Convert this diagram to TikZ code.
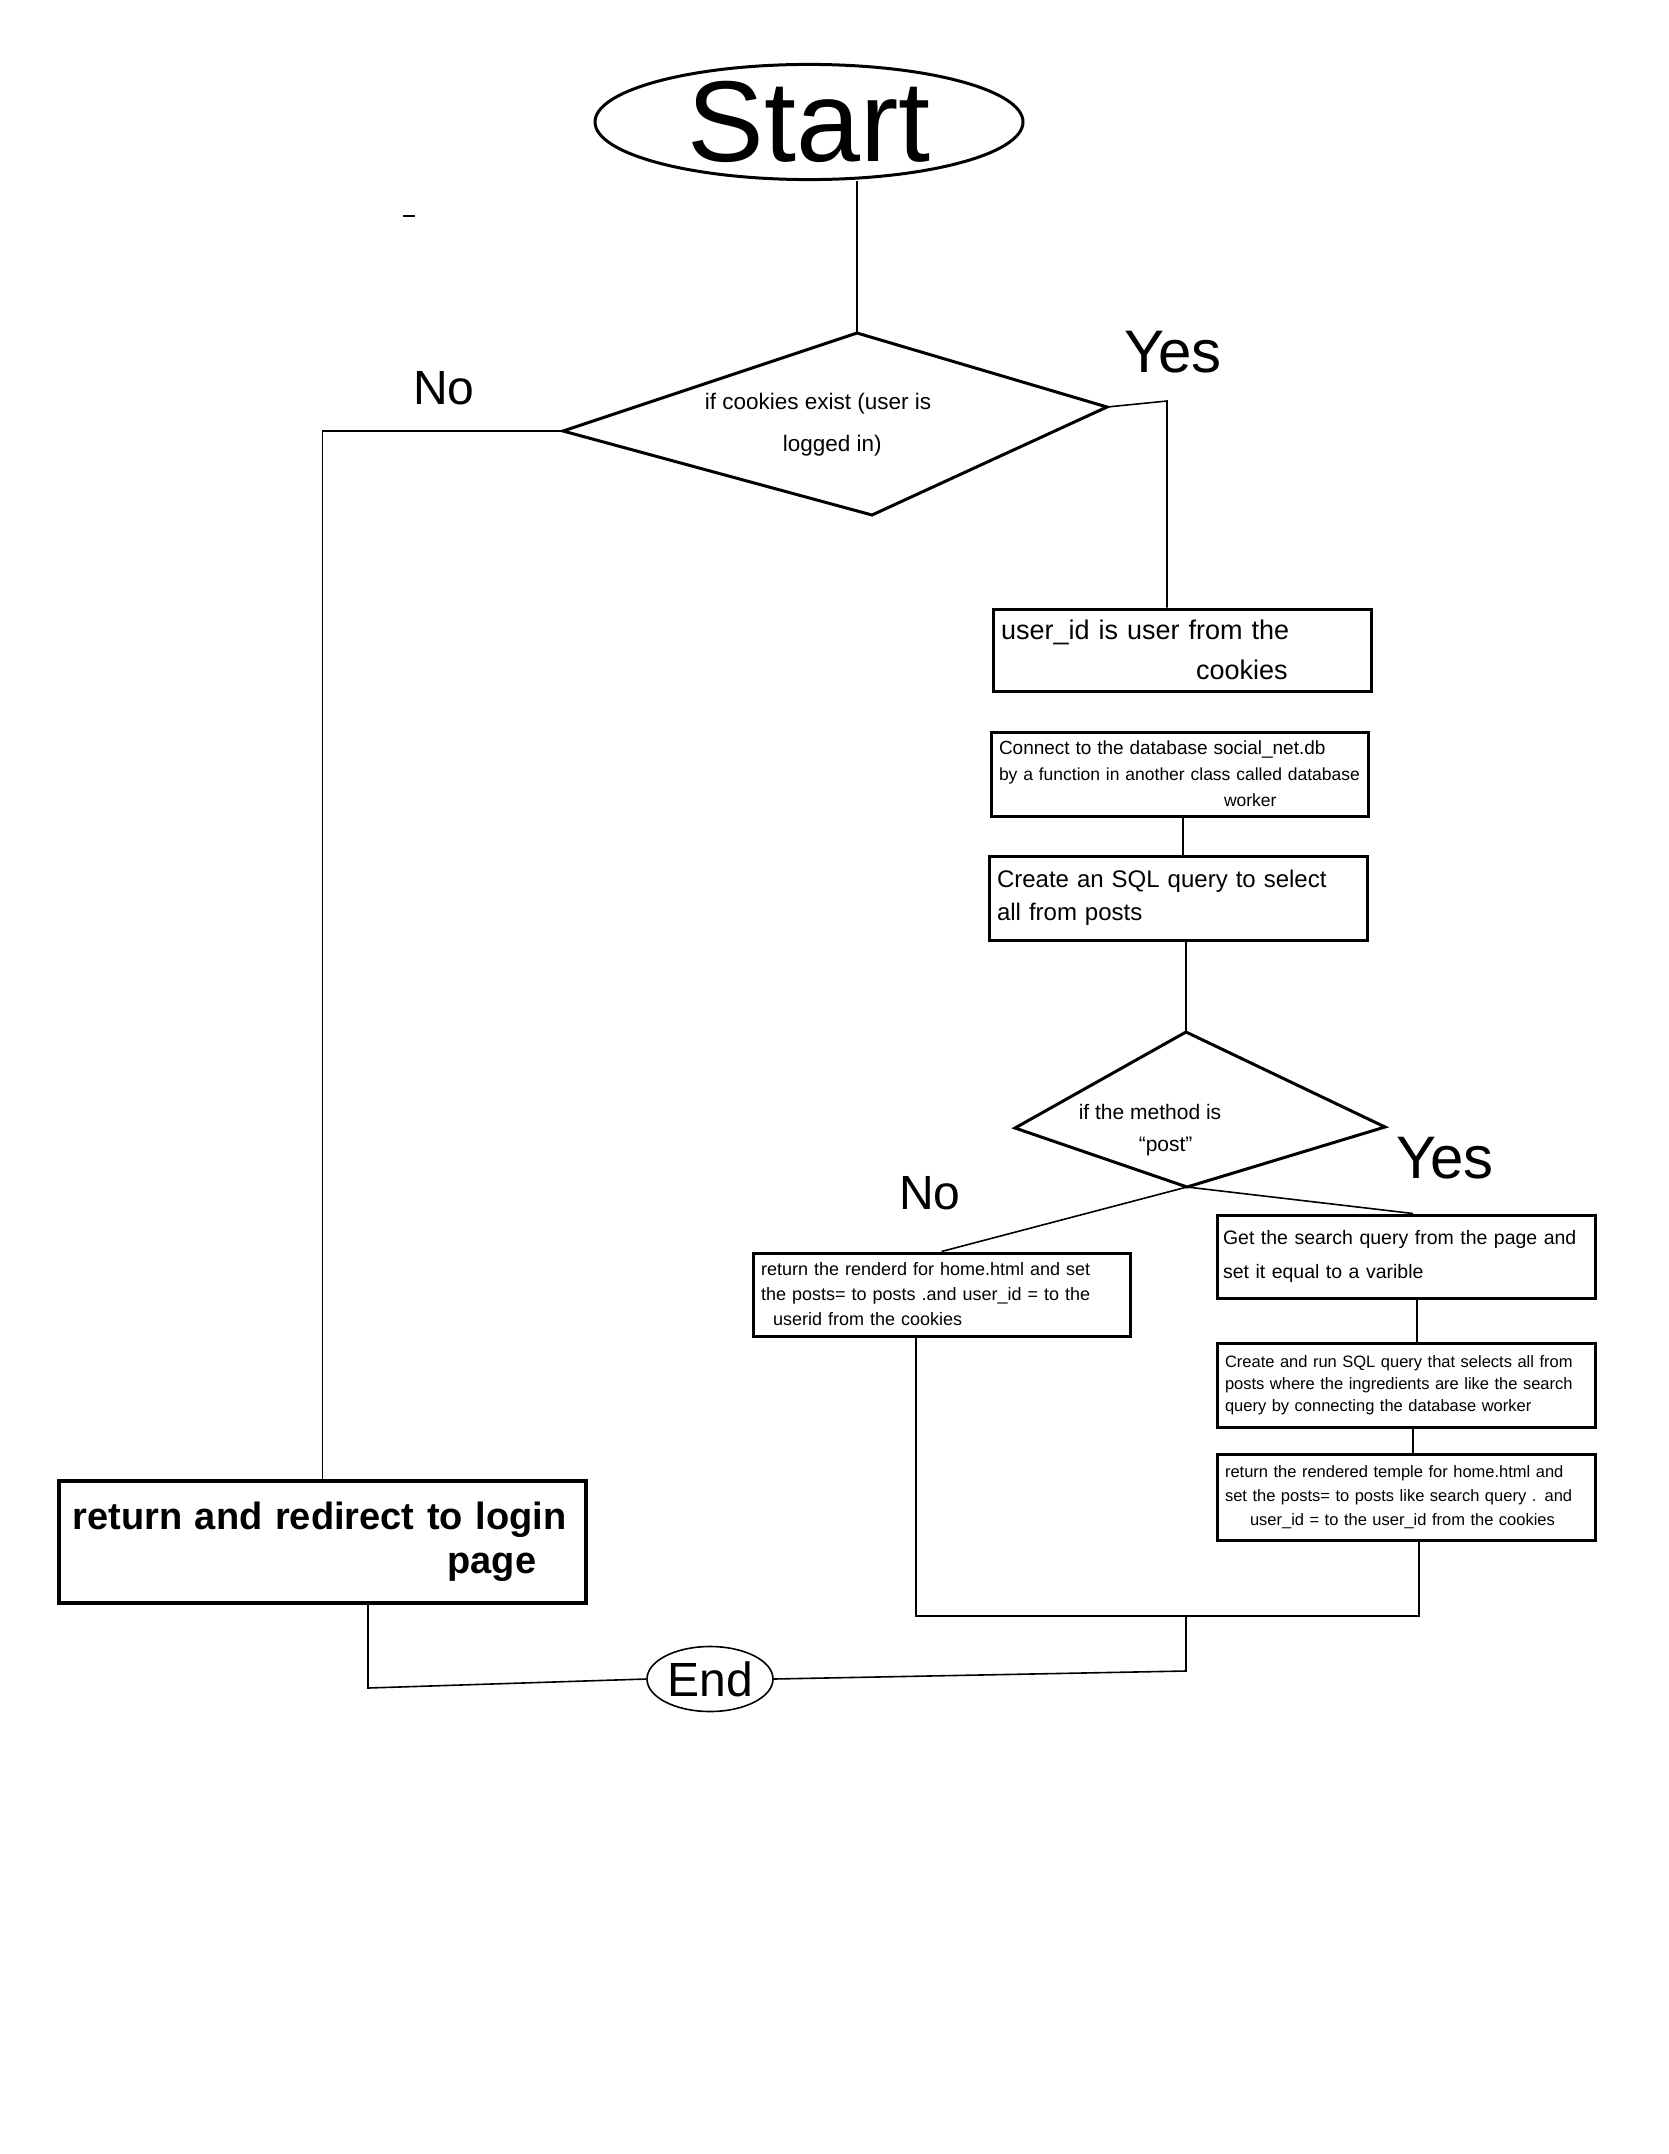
\documentclass[tikz,border=0pt]{standalone}
\usepackage{fontspec}
\setmainfont{Liberation Sans}
\usetikzlibrary{shapes.geometric}
\tikzset{
  boxn/.style={draw, line width=3pt, rectangle, inner sep=8pt, align=left},
  shape2/.style={draw, line width=3pt, line join=miter},
  conn/.style={draw, line width=1.6pt},
  lbl/.style={inner sep=0pt, align=center},
}
\begin{document}
\begin{tikzpicture}[x=1pt, y=-1pt]
\useasboundingbox (0,0) rectangle (1668,2154);
\fill[white] (0,0) rectangle (1668,2154);

% Start
\node[ellipse, draw, line width=3pt, minimum width=428pt, minimum height=114pt, inner sep=0pt,
      font=\fontsize{115}{125}\selectfont] (start) at (809,122) {Start};

% stray mark
\coordinate (m1) at (403,216);
\coordinate (m2) at (415,216);
\draw[line width=1.2pt] (m1) -- (m2);

% Diamond 1
\coordinate (d1t) at (857,333);
\coordinate (d1r) at (1107,407);
\coordinate (d1b) at (872,515);
\coordinate (d1l) at (563,431);
\draw[shape2] (d1t) -- (d1r) -- (d1b) -- (d1l) -- cycle;
\node[lbl, font=\fontsize{22.5}{42}\selectfont, align=left] (d1txt) at (818,425) {if cookies exist (user is\\\hspace*{78pt}logged in)};

% Start -> diamond 1
\draw[conn] (d1t |- start.south) -- (d1t);

% Yes / No labels 1
\coordinate (y1c) at (1167,401);
\node[lbl, font=\fontsize{60}{60}\selectfont] (yes1) at (1173,352) {Yes};
\node[lbl, font=\fontsize{48}{48}\selectfont] (no1) at (444,388) {No};

% Boxes right column
\node[boxn, minimum width=378pt, minimum height=82pt, text width=362pt, font=\fontsize{27}{40}\selectfont] (b1) at (1182,650)
  {user\_id is user from the\\\hspace*{195pt}cookies};
\node[boxn, minimum width=377pt, minimum height=84pt, text width=361pt, font=\fontsize{17.5}{26}\selectfont] (b2) at (1179.5,774)
  {{\fontsize{19}{26}\selectfont Connect to the database social\_net.db}\\by a function in another class called database\\\hspace*{225pt}worker};
\node[boxn, minimum width=378pt, minimum height=84pt, text width=362pt, font=\fontsize{24}{33}\selectfont] (b3) at (1178,898)
  {Create an SQL query to select\\all from posts};

\draw[conn] (d1r) -- (y1c) -- (y1c |- b1.north);

\coordinate (c23) at (1183,816);
\draw[conn] (c23) -- (c23 |- b3.north);

% Diamond 2
\coordinate (d2t) at (1186,1032);
\coordinate (d2r) at (1385,1127);
\coordinate (d2b) at (1187,1187);
\coordinate (d2l) at (1015,1128);
\draw[shape2] (d2t) -- (d2r) -- (d2b) -- (d2l) -- cycle;
\node[lbl, font=\fontsize{21}{32}\selectfont, align=left] (d2txt) at (1150,1130) {if the method is\\\hspace*{60pt}``post''};
\draw[conn] (d2t |- b3.south) -- (d2t);

\node[lbl, font=\fontsize{48}{48}\selectfont] (no2) at (930,1193) {No};
\node[lbl, font=\fontsize{60}{60}\selectfont] (yes2) at (1445,1158) {Yes};

% No box (left of diamond 2)
\node[boxn, minimum width=377pt, minimum height=83pt, text width=361pt, font=\fontsize{18}{25}\selectfont] (nobox) at (941.5,1294.5)
  {return the renderd for home.html and set\\the posts= to posts .and user\_id = to the\\\hspace*{12pt}userid from the cookies};

% Yes column
\node[boxn, minimum width=378pt, minimum height=83pt, text width=366pt, inner xsep=6pt, font=\fontsize{19.5}{34}\selectfont] (getbox) at (1406,1256.5)
  {Get the search query from the page and\\set it equal to a varible};
\node[boxn, minimum width=378pt, minimum height=84pt, text width=362pt, font=\fontsize{16.5}{22}\selectfont] (runbox) at (1406,1385)
  {Create and run SQL query that selects all from\\posts where the ingredients are like the search\\query by connecting the database worker};
\node[boxn, minimum width=378pt, minimum height=86pt, text width=362pt, font=\fontsize{16.5}{24}\selectfont] (retbox) at (1406,1497)
  {return the rendered temple for home.html and\\set the posts= to posts like search query . and\\\hspace*{25pt}user\_id = to the user\_id from the cookies};

\draw[conn] (d2b) -- (nobox.north);
\draw[conn] (d2b) -- ([xshift=7pt]getbox.north);
\coordinate (c45) at (1417,1298);
\draw[conn] (c45) -- (c45 |- runbox.north);
\coordinate (c56) at (1413,1427);
\draw[conn] (c56) -- (c56 |- retbox.north);

% Login box
\node[boxn, line width=4pt, minimum width=527pt, minimum height=122pt, text width=500pt, font=\bfseries\fontsize{38}{44}\selectfont] (login) at (322.5,1542)
  {return and redirect to login\\\hspace*{375pt}page};
\draw[conn] (d1l) -| (login.north);

% End
\node[ellipse, draw, line width=1.6pt, minimum width=126pt, minimum height=65pt, inner sep=0pt,
      font=\fontsize{48}{50}\selectfont] (endn) at (710,1679) {End};

% merges
\coordinate (mL) at (916,1616);
\coordinate (mR) at (1419,1616);
\coordinate (mM) at (1186,1616);
\coordinate (mD) at (1186,1671);
\draw[conn] (nobox.south -| mL) -- (mL) -- (mR) -- (retbox.south -| mR);
\draw[conn] (mM) -- (mD) -- (endn.east);
\coordinate (lD) at (368,1688);
\draw[conn] (login.south -| lD) -- (lD) -- (endn.west);
\end{tikzpicture}
\end{document}
